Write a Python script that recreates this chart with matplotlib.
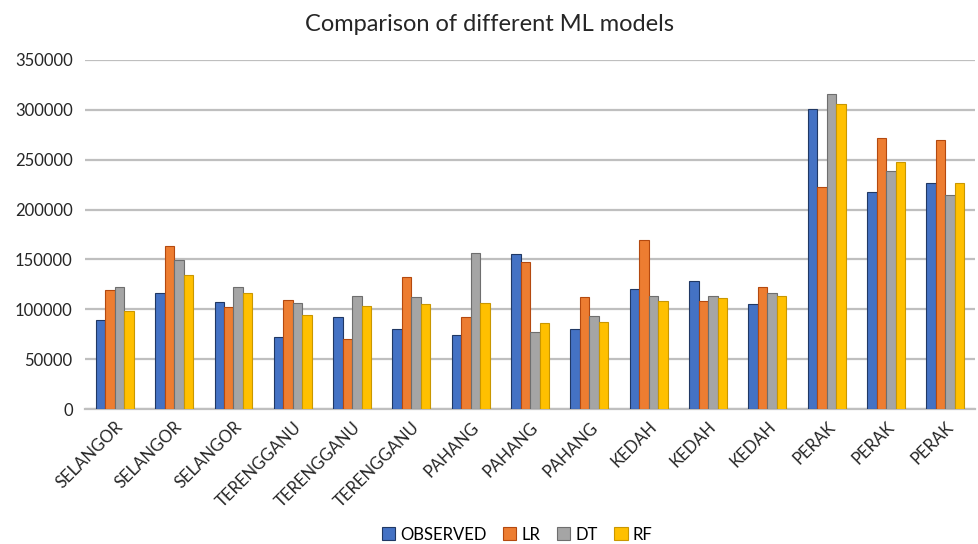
import matplotlib
matplotlib.use('Agg')
import matplotlib.pyplot as plt
import numpy as np

plt.rcParams['font.family'] = ['Lato', 'DejaVu Sans']

states = ['SELANGOR', 'SELANGOR', 'SELANGOR', 'TERENGGANU', 'TERENGGANU', 'TERENGGANU',
          'PAHANG', 'PAHANG', 'PAHANG', 'KEDAH', 'KEDAH', 'KEDAH', 'PERAK', 'PERAK', 'PERAK']

observed = [89000, 116700, 107000, 72000, 92600, 80000, 74000, 155500, 80000,
            120700, 128000, 105000, 301000, 218000, 227000]
lr = [119700, 163800, 102000, 109000, 70500, 132000, 92600, 147000, 112000,
      169500, 108000, 122000, 223000, 272000, 270000]
dt = [122000, 149700, 122000, 106600, 113000, 112000, 156800, 77000, 93000,
      113000, 113000, 116000, 315600, 238700, 214600]
rf = [98000, 134000, 116700, 94000, 103600, 105000, 106000, 86600, 87600,
      108000, 111000, 113000, 306000, 247400, 227000]

series = [('OBSERVED', observed, '#4472C4', '#203864'),
          ('LR', lr, '#ED7D31', '#B4490F'),
          ('DT', dt, '#A5A5A5', '#6E6E6E'),
          ('RF', rf, '#FFC000', '#C99700')]

fig = plt.figure(figsize=(9.79, 5.44), dpi=100)
ax = fig.add_axes([0.087, 0.248, 0.909, 0.642])

x = np.arange(len(states))
w = 0.16
for i, (name, vals, col, edge) in enumerate(series):
    ax.bar(x + (i - 1.5) * w, vals, width=w, color=col, edgecolor=edge,
           linewidth=0.8, label=name, zorder=3)

ax.set_xlim(-0.5, len(states) - 0.5)
ax.set_ylim(0, 350000)
ax.set_yticks(np.arange(0, 350001, 50000))
ax.yaxis.grid(True, color='#BFBFBF', linewidth=1.6, zorder=0)
ax.set_axisbelow(True)
for s in ['top', 'right', 'left']:
    ax.spines[s].set_visible(False)
ax.spines['bottom'].set_color('#BFBFBF')
ax.spines['bottom'].set_linewidth(1.6)
ax.tick_params(axis='both', length=0, labelsize=12, colors='#262626', pad=9)
ax.set_xticks(x)
ax.set_xticklabels(states, rotation=45, ha='right', rotation_mode='anchor')
ax.tick_params(axis='x', pad=7)

fig.suptitle('Comparison of different ML models', fontsize=17, color='#262626', y=0.975)

fig.legend(loc='lower center', ncol=4, bbox_to_anchor=(0.528, -0.025), frameon=False,
           fontsize=12, handlelength=0.8, handleheight=0.8, handletextpad=0.3,
           columnspacing=1.0)

fig.savefig('out.png', dpi=100)
